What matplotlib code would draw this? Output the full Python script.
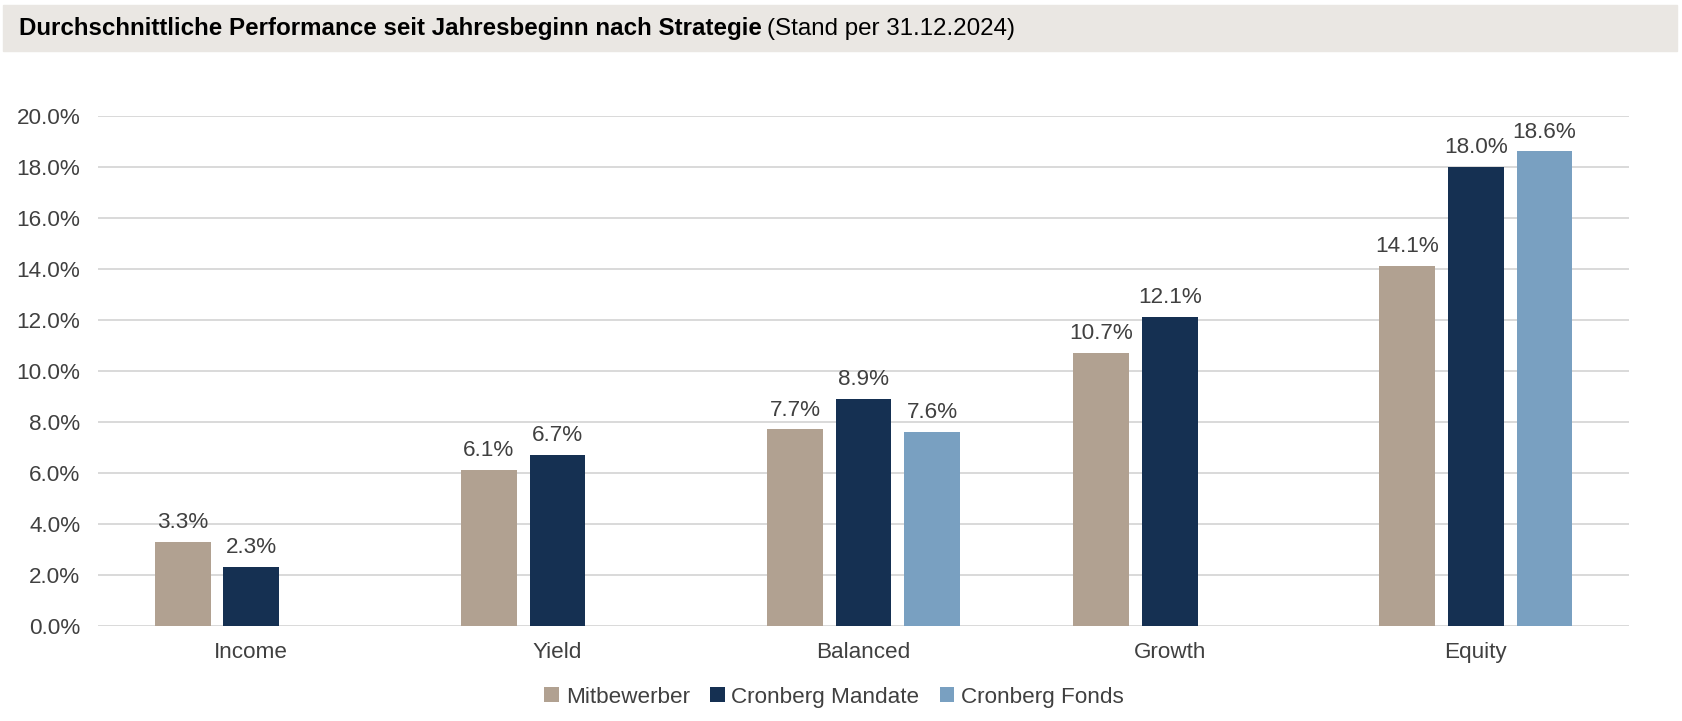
import matplotlib.pyplot as plt
import numpy as np

categories = ['Income', 'Yield', 'Balanced', 'Growth', 'Equity']
series = ['Mitbewerber', 'Cronberg Mandate', 'Cronberg Fonds']
mitbewerber = [3.3, 6.1, 7.7, 10.7, 14.1]
mandate = [2.3, 6.7, 8.9, 12.1, 18.0]
fonds = [np.nan, np.nan, 7.6, np.nan, 18.6]
colors = ['#B1A191', '#153052', '#79A0C1']

plt.rcParams['font.family'] = ['Liberation Sans', 'DejaVu Sans']

fig = plt.figure(figsize=(16.82, 7.21), dpi=100)
ax = fig.add_axes([0.0584, 0.132, 0.910, 0.7074])

fs = 16.2
x = np.arange(len(categories))
width = 0.182
offset = 0.224
for i, (vals, name) in enumerate(zip([mitbewerber, mandate, fonds], series)):
    v = np.array(vals, dtype=float)
    pos = x + (i - 1) * offset
    ax.bar(pos, v, width, color=colors[i], label=name, zorder=3)
    for p, val in zip(pos, v):
        if not np.isnan(val):
            ax.text(p, val + 0.35, f'{val:.1f}%', ha='center', va='bottom',
                    fontsize=fs, color='#404040')

ax.set_xlim(-0.5, len(categories) - 0.5)
ax.set_ylim(0, 20)
ax.set_yticks(np.arange(0, 21, 2))
ax.set_yticklabels([f'{t:.1f}%' for t in np.arange(0, 21, 2)])
ax.set_xticks(x)
ax.set_xticklabels(categories)
ax.tick_params(axis='both', length=0, labelsize=fs, labelcolor='#404040')
ax.tick_params(axis='x', pad=12)
ax.tick_params(axis='y', pad=13)
ax.grid(axis='y', color='#D9D9D9', linewidth=1.4, zorder=0)
for s in ax.spines.values():
    s.set_visible(False)
ax.set_axisbelow(True)

fig.legend(loc='center', bbox_to_anchor=(0.496, 0.033), ncol=3, frameon=False,
           fontsize=fs, handlelength=0.65, handleheight=0.65, handletextpad=0.3,
           columnspacing=0.9, labelcolor='#404040')

# title band
fig.patches.append(plt.Rectangle((0.002, 0.9287), 0.995, 0.0638, transform=fig.transFigure,
                                 color='#EAE7E3', zorder=0))
t1 = fig.text(0.0115, 0.960, 'Durchschnittliche Performance seit Jahresbeginn nach Strategie',
              fontsize=17.4, fontweight='bold', va='center', color='black')
fig.canvas.draw()
bb = t1.get_window_extent()
x_end = bb.x1 / fig.bbox.width
fig.text(x_end + 0.003, 0.960, '(Stand per 31.12.2024)', fontsize=17.4, va='center', color='black')

fig.savefig('out.png', dpi=100)
